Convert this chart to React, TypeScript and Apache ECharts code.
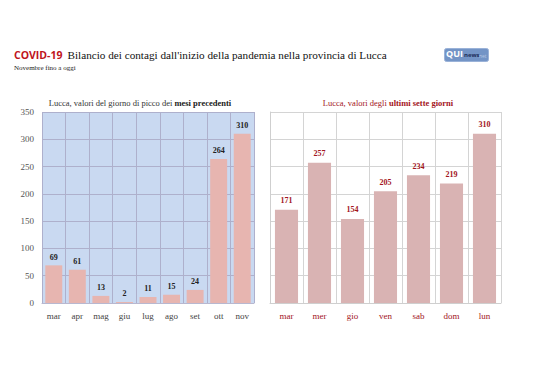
import React, { useEffect, useRef } from "react";
import * as echarts from "echarts";

const monthCats = ["mar", "apr", "mag", "giu", "lug", "ago", "set", "ott", "nov"];
const monthVals = [69, 61, 13, 2, 11, 15, 24, 264, 310];
const dayCats = ["mar", "mer", "gio", "ven", "sab", "dom", "lun"];
const dayVals = [171, 257, 154, 205, 234, 219, 310];
const yMin = 0;
const yMax = 350;
const yStep = 50;

const SERIF = "'Liberation Serif', 'DejaVu Serif', serif";
const SANS = "'Open Sans', 'Noto Sans', sans-serif";
const DARKRED = "#a3151c";

export default function App() {
  const ref = useRef<HTMLDivElement>(null);
  useEffect(() => {
    if (!ref.current) return;
    const chart = echarts.init(ref.current, null, { renderer: "svg" });
    chart.setOption({
      animation: false,
      backgroundColor: "#ffffff",
      title: [
        {
          text: "{a|COVID-19} {b|Bilancio dei contagi dall'inizio della pandemia nella provincia di Lucca}",
          left: 9,
          top: 41,
          textStyle: {
            fontWeight: "normal",
            rich: {
              a: { fontFamily: SANS, fontWeight: "bold", fontSize: 10.5, color: "#c0141c" },
              b: { fontFamily: SERIF, fontWeight: "normal", fontSize: 11.2, color: "#111" },
            },
          },
        },
        {
          text: "Novembre fino a oggi",
          left: 9,
          top: 59,
          textStyle: { fontFamily: SERIF, fontSize: 7, fontWeight: "normal", color: "#222" },
        },
        {
          text: "{n|Lucca, valori del giorno di picco dei }{b|mesi precedenti}",
          left: 135,
          textAlign: "center",
          top: 93,
          textStyle: {
            fontWeight: "normal",
            rich: {
              n: { fontFamily: SERIF, fontSize: 8.5, fontWeight: "normal", color: "#333" },
              b: { fontFamily: SERIF, fontSize: 8.5, fontWeight: "bold", color: "#222" },
            },
          },
        },
        {
          text: "{n|Lucca, valori degli }{b|ultimi sette giorni}",
          left: 383,
          textAlign: "center",
          top: 93,
          textStyle: {
            fontWeight: "normal",
            rich: {
              n: { fontFamily: SERIF, fontSize: 8.5, fontWeight: "normal", color: DARKRED },
              b: { fontFamily: SERIF, fontSize: 8.5, fontWeight: "bold", color: DARKRED },
            },
          },
        },
      ],
      graphic: [
        {
          type: "rect",
          left: 444,
          top: 48,
          shape: { width: 44, height: 13, r: 2 },
          style: { fill: "#7394c6", stroke: "#9ab2d8", lineWidth: 1 },
        },
        {
          type: "text",
          left: 446,
          top: 49,
          style: { text: "QUI", fill: "#ffffff", font: "bold 9px 'Open Sans', sans-serif" },
        },
        {
          type: "text",
          left: 464,
          top: 52,
          style: { text: "news", fill: "#1d2f5a", font: "bold 6px 'Open Sans', sans-serif" },
        },
        {
          type: "text",
          left: 479,
          top: 53,
          style: { text: "net", fill: "#b8c8e4", font: "5px 'Open Sans', sans-serif" },
        },
      ],
      grid: [
        {
          left: 42,
          top: 112,
          width: 212,
          height: 191,
          show: true,
          backgroundColor: "#c9d9f1",
          borderWidth: 0,
        },
        {
          left: 270,
          top: 112,
          width: 231,
          height: 191,
          show: false,
        },
      ],
      xAxis: [
        {
          type: "category",
          gridIndex: 0,
          data: monthCats,
          axisLine: { show: true, lineStyle: { color: "#b8b8d0" } },
          axisTick: { show: false },
          splitLine: { show: true, lineStyle: { color: "#aeb0cc", width: 1 } },
          axisLabel: { fontFamily: SERIF, fontSize: 9, color: "#444", margin: 8 },
        },
        {
          type: "category",
          gridIndex: 1,
          data: dayCats,
          axisLine: { show: true, lineStyle: { color: "#cfcfcf" } },
          axisTick: { show: false },
          splitLine: { show: true, lineStyle: { color: "#d4d4d4", width: 1 } },
          axisLabel: { fontFamily: SERIF, fontSize: 9, color: DARKRED, margin: 8 },
        },
      ],
      yAxis: [
        {
          type: "value",
          gridIndex: 0,
          min: yMin,
          max: yMax,
          interval: yStep,
          axisLine: { show: false },
          axisTick: { show: false },
          splitLine: { show: true, lineStyle: { color: "#aeb0cc", width: 1 } },
          axisLabel: { fontFamily: SERIF, fontSize: 9, color: "#555", margin: 8 },
        },
        {
          type: "value",
          gridIndex: 1,
          min: yMin,
          max: yMax,
          interval: yStep,
          axisLine: { show: true, lineStyle: { color: "#cfcfcf" } },
          axisTick: { show: false },
          splitLine: { show: true, lineStyle: { color: "#d4d4d4", width: 1 } },
          axisLabel: { show: false },
        },
      ],
      series: [
        {
          type: "bar",
          xAxisIndex: 0,
          yAxisIndex: 0,
          data: monthVals,
          barWidth: "72%",
          itemStyle: { color: "#e7b5b0" },
          label: {
            show: true,
            position: "top",
            distance: 4,
            fontFamily: SERIF,
            fontSize: 8,
            fontWeight: "bold",
            color: "#222",
          },
        },
        {
          type: "bar",
          xAxisIndex: 1,
          yAxisIndex: 1,
          data: dayVals,
          barWidth: "70%",
          itemStyle: { color: "#d9b3b3" },
          label: {
            show: true,
            position: "top",
            distance: 5,
            fontFamily: SERIF,
            fontSize: 8,
            fontWeight: "bold",
            color: DARKRED,
          },
        },
      ],
    });
    return () => chart.dispose();
  }, []);
  return <div ref={ref} style={{ width: 538, height: 380, position: "absolute", left: 0, top: 0 }} />;
}
